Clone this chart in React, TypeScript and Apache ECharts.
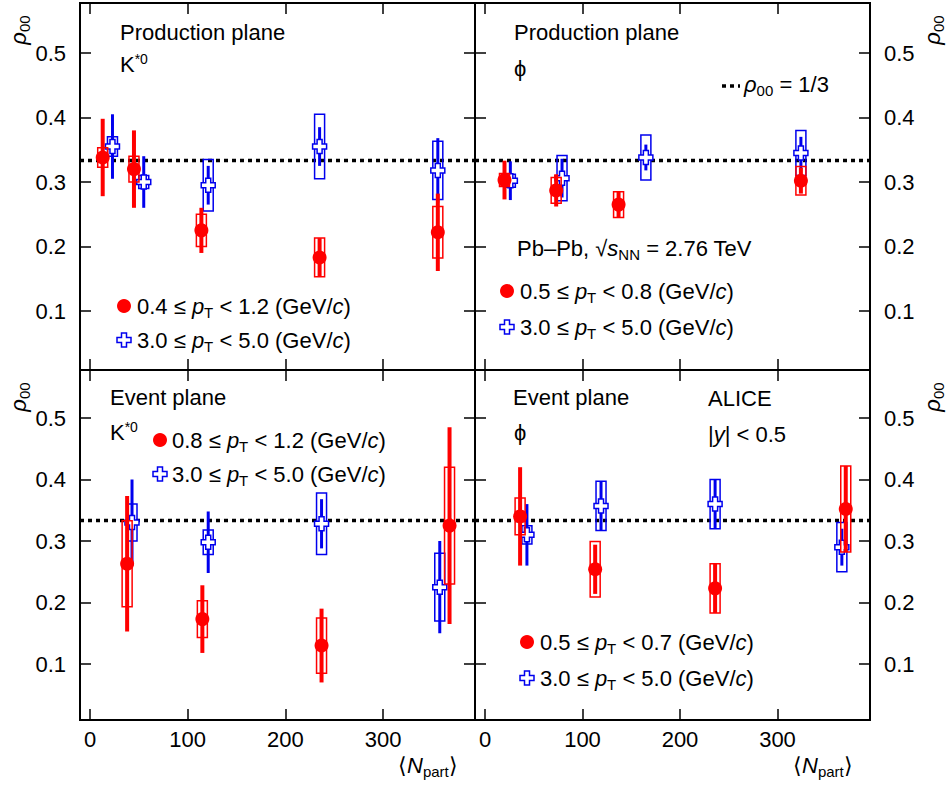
import React, { useEffect, useRef } from "react";
import * as echarts from "echarts";

// [Npart, rho00, statErr, sysErr]
const tlRed = [[13,.338,.06,.015],[45,.32,.06,.02],[114,.225,.035,.025],[235,.183,.03,.03],[356,.222,.06,.04]];
const tlBlue = [[23,.355,.05,.015],[55,.30,.04,.01],[121,.295,.03,.04],[235,.355,.03,.05],[356,.318,.05,.045]];
const trRed = [[20,.303,.03,.01],[73,.287,.025,.02],[137,.265,.02,.02],[324,.302,.02,.022]];
const trBlue = [[26,.302,.03,.01],[79,.306,.03,.035],[165,.338,.02,.035],[324,.345,.025,.035]];
const blRed = [[38,.263,.11,.07],[115,.173,.055,.03],[237,.13,.06,.045],[368,.325,.16,.095]];
const blBlue = [[43,.33,.07,.03],[121,.298,.05,.02],[237,.328,.04,.05],[358,.225,.075,.055]];
const brRed = [[36,.34,.08,.03],[113,.254,.04,.045],[236,.223,.04,.04],[370,.352,.07,.07]];
const brBlue = [[43,.31,.05,.015],[119,.357,.04,.04],[236,.36,.04,.04],[366,.29,.03,.04]];
const refLine = 1 / 3;
const yTickMin = 0.1, yTickMax = 0.5;
const xTickMin = 0, xTickMax = 300;

const RED = "#ff0000";
const BLUE = "#0000ee";
const FONT = "Liberation Sans";

// panel frames (px) and pixel mapping
const panels = [
  { L: 80, R: 475, T: 3, B: 370, x0: 90, xs: 0.977, y05: 53, ys: 645 },
  { L: 475, R: 870, T: 3, B: 370, x0: 485, xs: 0.975, y05: 53, ys: 645 },
  { L: 80, R: 475, T: 370, B: 720, x0: 90, xs: 0.977, y05: 418, ys: 615 },
  { L: 475, R: 870, T: 370, B: 720, x0: 485, xs: 0.975, y05: 418, ys: 615 },
];

function crossPts(cx: number, cy: number, a: number, b: number) {
  return [[cx-b,cy-a],[cx+b,cy-a],[cx+b,cy-b],[cx+a,cy-b],[cx+a,cy+b],[cx+b,cy+b],[cx+b,cy+a],[cx-b,cy+a],[cx-b,cy+b],[cx-a,cy+b],[cx-a,cy-b],[cx-b,cy-b]];
}

function makeSeries(data: number[][], idx: number, color: string, blue: boolean) {
  return {
    type: "custom", xAxisIndex: idx, yAxisIndex: idx, data, z: blue ? 3 : 4,
    renderItem: (params: any, api: any) => {
      const x = api.value(0), y = api.value(1), st = api.value(2), sy = api.value(3);
      const p = api.coord([x, y]);
      const t = api.coord([x, y + st]);
      const b = api.coord([x, y - st]);
      const s1 = api.coord([x, y + sy]);
      const s2 = api.coord([x, y - sy]);
      const children: any[] = [
        { type: "rect", shape: { x: p[0] - 5, y: s1[1], width: 10, height: s2[1] - s1[1] }, style: { fill: "none", stroke: color, lineWidth: 1.5 } },
        { type: "line", shape: { x1: p[0], y1: t[1], x2: p[0], y2: b[1] }, style: { stroke: color, lineWidth: blue ? 3 : 4 } },
      ];
      if (blue) children.push({ type: "polygon", shape: { points: crossPts(p[0], p[1], 7, 2.5) }, style: { fill: "#fff", stroke: color, lineWidth: 1.5 } });
      else children.push({ type: "circle", shape: { cx: p[0], cy: p[1], r: 7 }, style: { fill: color } });
      return { type: "group", children };
    },
  };
}

const rich = {
  i: { fontStyle: "italic", fontSize: 22, fontFamily: FONT },
  sub: { fontSize: 15, verticalAlign: "bottom", padding: [12, 0, 0, 0], fontFamily: FONT },
  sup: { fontSize: 14, verticalAlign: "top", padding: [0, 0, 10, 0], fontFamily: FONT },
};

function txt(x: number, y: number, text: string, extra: any = {}) {
  return { type: "text", x, y, style: { text, fontSize: 22, fontFamily: FONT, fill: "#000", rich, verticalAlign: "middle", ...extra }, z: 10 };
}
function redDot(x: number, y: number) { return { type: "circle", shape: { cx: x, cy: y, r: 7 }, style: { fill: RED }, z: 10 }; }
function blueCross(x: number, y: number) { return { type: "polygon", shape: { points: crossPts(x, y, 7, 2.5) }, style: { fill: "#fff", stroke: BLUE, lineWidth: 1.5 }, z: 10 }; }

const tickStyle = { show: true, inside: true, length: 11, lineStyle: { color: "#000", width: 1.5 } };
const labelStyle = { fontSize: 22, fontFamily: FONT, color: "#000" };

export default function App() {
  const ref = useRef<HTMLDivElement>(null);
  useEffect(() => {
    const chart = echarts.init(ref.current!, null, { renderer: "svg" });
    const grids: any[] = [];
    const xAxis: any[] = [];
    const yAxis: any[] = [];
    const hidden = { show: false };
    panels.forEach((P, i) => {
      const xMin = (P.L - P.x0) / P.xs, xMax = (P.R - P.x0) / P.xs;
      const yMax = 0.5 - (P.T - P.y05) / P.ys, yMin = 0.5 - (P.B - P.y05) / P.ys;
      // data grid
      grids.push({ left: P.L, top: P.T, width: P.R - P.L, height: P.B - P.T });
      xAxis.push({ type: "value", gridIndex: grids.length - 1, min: xMin, max: xMax, ...hidden });
      yAxis.push({ type: "value", gridIndex: grids.length - 1, min: yMin, max: yMax, ...hidden });
    });
    panels.forEach((P, i) => {
      // x tick grid
      const xa = P.x0 + P.xs * xTickMin, xb = P.x0 + P.xs * xTickMax;
      grids.push({ left: xa, top: P.T, width: xb - xa, height: P.B - P.T });
      const g = grids.length - 1;
      ["bottom", "top"].forEach((pos) => xAxis.push({
        type: "value", gridIndex: g, position: pos, min: xTickMin, max: xTickMax, interval: 100,
        axisLine: { show: false }, axisTick: tickStyle, splitLine: { show: false },
        axisLabel: { show: pos === "bottom" && i >= 2, ...labelStyle, margin: 8 },
      }));
      yAxis.push({ type: "value", gridIndex: g, min: 0, max: 1, ...hidden });
    });
    panels.forEach((P, i) => {
      // y tick grid
      const ya = P.y05 + (0.5 - yTickMax) * P.ys, yb = P.y05 + (0.5 - yTickMin) * P.ys;
      grids.push({ left: P.L, top: ya, width: P.R - P.L, height: yb - ya });
      const g = grids.length - 1;
      xAxis.push({ type: "value", gridIndex: g, min: 0, max: 1, ...hidden });
      ["left", "right"].forEach((pos) => yAxis.push({
        type: "value", gridIndex: g, position: pos, min: yTickMin, max: yTickMax, interval: 0.1,
        axisLine: { show: false }, axisTick: tickStyle, splitLine: { show: false },
        axisLabel: { show: (pos === "right") === (i % 2 === 1), ...labelStyle, margin: 14, formatter: (v: number) => v.toFixed(1) },
      }));
    });
    const pairs = [[tlRed, tlBlue], [trRed, trBlue], [blRed, blBlue], [brRed, brBlue]];
    const series: any[] = [];
    pairs.forEach(([r, b], i) => {
      series.push({
        type: "line", xAxisIndex: i, yAxisIndex: i, data: [[xAxis[i].min, refLine], [xAxis[i].max, refLine]], symbol: "none",
        lineStyle: { color: "#000", width: 3.5, type: [4, 4] }, z: 2, silent: true,
      });
      series.push(makeSeries(b, i, BLUE, true));
      series.push(makeSeries(r, i, RED, false));
    });
    const rho = "{i|ρ}{sub|00}";
    const graphic: any[] = panels.map((P) => ({
      type: "rect", shape: { x: P.L, y: P.T, width: P.R - P.L, height: P.B - P.T }, style: { fill: "none", stroke: "#000", lineWidth: 2 }, z: 20,
    }));
    graphic.push(
      txt(120, 32, "Production plane"), txt(120, 64, "K{sup|*0}"),
      txt(514, 32, "Production plane"), txt(514, 68, "ϕ"),
      txt(110, 397, "Event plane"), txt(110, 432, "K{sup|*0}"),
      txt(513, 397, "Event plane"), txt(514, 432, "ϕ"),
      txt(708, 398, "ALICE"), txt(708, 434, "|{i|y}| < 0.5"),
      { type: "line", shape: { x1: 722, y1: 86, x2: 740, y2: 86 }, style: { stroke: "#000", lineWidth: 3.5, lineDash: [4, 4] }, z: 10 },
      txt(744, 84, "{i|ρ}{sub|00} = 1/3"),
      txt(517, 248, "Pb–Pb, √{i|s}{sub|NN} = 2.76 TeV"),
      redDot(124, 306), txt(137, 306, "0.4 ≤ {i|p}{sub|T} < 1.2 (GeV/{i|c})"),
      blueCross(124, 340), txt(137, 340, "3.0 ≤ {i|p}{sub|T} < 5.0 (GeV/{i|c})"),
      redDot(507, 291), txt(520, 291, "0.5 ≤ {i|p}{sub|T} < 0.8 (GeV/{i|c})"),
      blueCross(507, 327), txt(520, 327, "3.0 ≤ {i|p}{sub|T} < 5.0 (GeV/{i|c})"),
      redDot(160, 440), txt(172, 440, "0.8 ≤ {i|p}{sub|T} < 1.2 (GeV/{i|c})"),
      blueCross(160, 474), txt(172, 474, "3.0 ≤ {i|p}{sub|T} < 5.0 (GeV/{i|c})"),
      redDot(527, 642), txt(540, 642, "0.5 ≤ {i|p}{sub|T} < 0.7 (GeV/{i|c})"),
      blueCross(527, 678), txt(540, 678, "3.0 ≤ {i|p}{sub|T} < 5.0 (GeV/{i|c})"),
      txt(398, 765, "⟨{i|N}{sub|part}⟩"), txt(793, 765, "⟨{i|N}{sub|part}⟩"),
    );
    [[18, 30], [18, 397], [932, 30], [932, 397]].forEach(([x, y]) => {
      graphic.push({ type: "text", x, y, rotation: Math.PI / 2, style: { text: rho, fontSize: 22, fontFamily: FONT, rich, align: "center", verticalAlign: "middle" }, z: 10 });
    });
    chart.setOption({ animation: false, backgroundColor: "#fff", grid: grids, xAxis, yAxis, series, graphic });
    return () => chart.dispose();
  }, []);
  return <div ref={ref} style={{ position: "fixed", left: 0, top: 0, width: 950, height: 787 }} />;
}
